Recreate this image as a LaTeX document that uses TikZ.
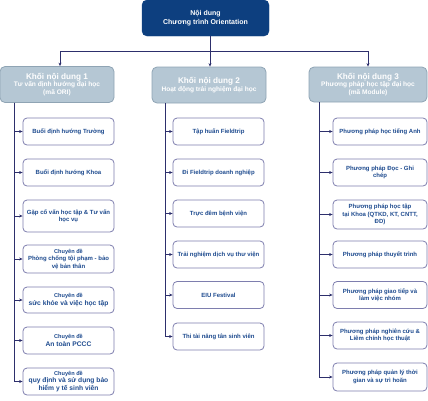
\documentclass[tikz,border=0pt]{standalone}
\usepackage{fontspec}
\setmainfont{Liberation Sans}
\usetikzlibrary{arrows.meta}
\definecolor{navy}{HTML}{0D3F7F}
\definecolor{lvlfill}{HTML}{B5C7D4}
\definecolor{lvldraw}{HTML}{8FA4B4}
\definecolor{linec}{HTML}{2D2F6C}
\definecolor{childdraw}{HTML}{7E7EAE}
\definecolor{childtext}{HTML}{1E4B8F}
\tikzset{
  topbox/.style={draw=navy,fill=navy,rounded corners=5pt,text=white,font=\bfseries\fontsize{7}{8.5}\selectfont,align=center,minimum width=127pt,minimum height=36pt,inner sep=1pt},
  lvlbox/.style={draw=lvldraw,fill=lvlfill,line width=0.8pt,rounded corners=5pt,text=white,font=\bfseries\fontsize{6.6}{7.8}\selectfont,align=center,minimum height=36pt,inner sep=1pt},
  child/.style={draw=childdraw,fill=white,line width=0.8pt,rounded corners=4pt,text=childtext,font=\bfseries\fontsize{6}{7.4}\selectfont,align=center,minimum height=27pt,inner sep=1pt},
  conn/.style={draw=linec,line width=0.9pt},
  arr/.style={conn,-{Stealth[length=3.5pt,width=3pt]}},
}
\newcommand{\smallcd}{{\fontsize{5.6}{7}\selectfont Chuyên đề}}
\newcommand{\ttl}[1]{{\fontsize{8.2}{9.6}\selectfont #1}}
\newcommand{\mdl}[1]{{\fontsize{6.7}{8}\selectfont #1}}
\begin{document}
\begin{tikzpicture}[x=1pt,y=-1pt]
\useasboundingbox (0,0) rectangle (428,400);
% top
\node[topbox] (top) at (205.5,18) {Nội dung\\Chương trình Orientation};
% level 1
\node[lvlbox,minimum width=114pt] (b1) at (57,84.5) {\ttl{Khối nội dung 1}\\Tư vấn định hướng đại học\\(mã ORI)};
\node[lvlbox,minimum width=114pt] (b2) at (209,85) {\ttl{Khối nội dung 2}\\Hoạt động trải nghiệm đại học};
\node[lvlbox,minimum width=118pt,minimum height=35pt] (b3) at (368,84.5) {\ttl{Khối nội dung 3}\\Phương pháp học tập đại học\\(mã Module)};
% connectors top -> level1
\coordinate (hub) at (210,51);
\coordinate (h1) at (60,51);
\coordinate (h3) at (368,51);
\draw[conn] (top.south -| hub) -- (hub);
\draw[conn] (h1) -- (h3);
\draw[arr] (h1) -- (h1 |- b1.north);
\draw[arr] (hub) -- (hub |- b2.north);
\draw[arr] (h3) -- (h3 |- b3.north);
% left column
\node[child,minimum width=91pt] (l1) at (68.5,131.5) {Buổi định hướng Trường};
\node[child,minimum width=91pt] (l2) at (68.5,172.5) {Buổi định hướng Khoa};
\node[child,minimum width=91pt,minimum height=32pt] (l3) at (68.5,216) {Gặp cố vấn học tập \& Tư vấn\\học vụ};
\node[child,minimum width=91pt,minimum height=28pt] (l4) at (68.5,259) {\smallcd\\Phòng chống tội phạm - bảo\\vệ bản thân};
\node[child,minimum width=91pt,minimum height=26pt] (l5) at (68.5,300) {\smallcd\\\mdl{sức khỏe và việc học tập}};
\node[child,minimum width=91pt] (l6) at (68.5,340.5) {\smallcd\\\mdl{An toàn PCCC}};
\node[child,minimum width=91pt] (l7) at (68.5,381.5) {\smallcd\\\mdl{quy định và sử dụng bảo}\\\mdl{hiểm y tế sinh viên}};
\coordinate (lt) at (14,103);
\foreach \n in {l1,l2,l3,l4,l5,l6,l7} \draw[arr] (lt |- b1.south) |- (\n.west);
% middle column
\node[child,minimum width=91pt] (m1) at (218.5,131.5) {Tập huấn Fieldtrip};
\node[child,minimum width=91pt] (m2) at (218.5,172.5) {Đi Fieldtrip doanh nghiệp};
\node[child,minimum width=91pt] (m3) at (218.5,213.5) {Trực đêm bệnh viện};
\node[child,minimum width=91pt] (m4) at (218.5,254.5) {Trải nghiệm dịch vụ thư viện};
\node[child,minimum width=91pt] (m5) at (218.5,295) {EIU Festival};
\node[child,minimum width=91pt] (m6) at (218.5,336.5) {Thi tài năng tân sinh viên};
\coordinate (mt) at (165,103);
\foreach \n in {m1,m2,m3,m4,m5,m6} \draw[arr] (mt |- b2.south) |- (\n.west);
% right column
\node[child,minimum width=94pt] (r1) at (380,131.5) {Phương pháp học tiếng Anh};
\node[child,minimum width=94pt] (r2) at (380,172.5) {Phương pháp Đọc - Ghi\\chép};
\node[child,minimum width=94pt,minimum height=29pt] (r3) at (380,214.5) {Phương pháp học tập\\tại Khoa (QTKD, KT, CNTT,\\ĐD)};
\node[child,minimum width=94pt] (r4) at (380,254.5) {Phương pháp thuyết trình};
\node[child,minimum width=94pt] (r5) at (380,295) {Phương pháp giao tiếp và\\làm việc nhóm};
\node[child,minimum width=94pt] (r6) at (380,335.5) {Phương pháp nghiên cứu \&\\Liêm chính học thuật};
\node[child,minimum width=94pt,minimum height=28pt] (r7) at (380,377) {Phương pháp quản lý thời\\gian và sự trì hoãn};
\coordinate (rt) at (319,103);
\foreach \n in {r1,r2,r3,r4,r5,r6,r7} \draw[arr] (rt |- b3.south) |- (\n.west);
\end{tikzpicture}
\end{document}
